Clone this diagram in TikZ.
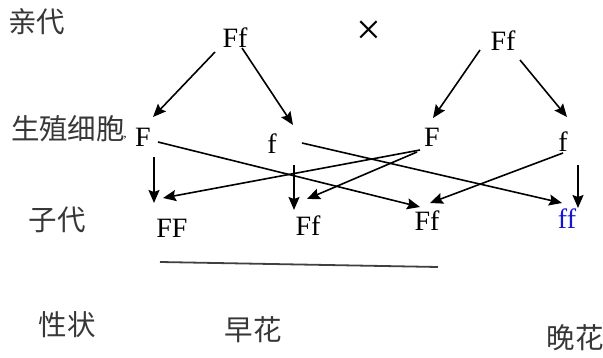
\documentclass[tikz,border=0pt]{standalone}
\usepackage{fontspec}
\setmainfont{Liberation Serif}
\newfontfamily\cjk{Noto Sans CJK SC}
\usetikzlibrary{arrows.meta}
\definecolor{labelgray}{RGB}{55,55,55}
\definecolor{recblue}{RGB}{20,20,210}

\begin{document}
\begin{tikzpicture}[
    x=1pt, y=-1pt,
    gene/.style={inner sep=0pt, font=\fontsize{28}{30}\selectfont},
    rowlabel/.style={inner sep=0pt, text=labelgray, font=\cjk\fontsize{28.5}{31}\selectfont},
    arrow/.style={-{Stealth[length=13pt,width=11pt,inset=2pt]}, line width=1.6pt},
    bar/.style={line width=1.8pt, black!75}
]
\useasboundingbox (0,0) rectangle (603,358);

% ===== ROW LABELS =====
\node[rowlabel] (lparent) at (37,22) {亲代};
\node[rowlabel] (lgamete) at (68,129) {生殖细胞};
\node[inner sep=0pt, font=\fontsize{12}{12}\selectfont] (comma) at (125,138) {,};
\node[rowlabel] (lchild) at (57,220) {子代};
\node[rowlabel] (ltrait) at (67,325) {性状};

% ===== PARENTS =====
\node[gene] (pA) at (235,38) {Ff};
\node[inner sep=0pt, font=\fontsize{44}{44}\selectfont] (cross) at (369,33) {×};
\node[gene] (pB) at (503,41) {Ff};

% ===== GAMETES =====
\node[gene] (gA) at (143,137) {F};
\node[gene] (ga) at (272,144) {f};
\node[gene] (gB) at (432,137) {F};
\node[gene] (gb) at (563,142) {f};

% ===== OFFSPRING =====
\node[gene] (oFF) at (172,228) {FF};
\node[gene] (oFf1) at (308,226) {Ff};
\node[gene] (oFf2) at (427,221) {Ff};
\node[gene, text=recblue] (off) at (567,219) {ff};

% ===== TRAITS =====
\node[rowlabel] (early) at (253,330) {早花};
\node[rowlabel] (late) at (575,338) {晚花};

% ===== ARROWS - MEIOSIS =====
\draw[arrow] ([shift={(-20,14)}]pA.center) -- ([shift={(10,-20)}]gA.center);
\draw[arrow] ([shift={(7,10)}]pA.center) -- ([shift={(21,-19)}]ga.center);
\draw[arrow] ([shift={(-23,9)}]pB.center) -- ([shift={(1,-19)}]gB.center);
\draw[arrow] ([shift={(17,19)}]pB.center) -- ([shift={(4,-25)}]gb.center);

% ===== ARROWS - FERTILIZATION =====
\draw[arrow] ([shift={(11,20)}]gA.center) -- ([shift={(-18,-25)}]oFF.center);
\draw[arrow] ([shift={(15,5)}]gA.center) -- ([shift={(-7,-14)}]oFf2.center);
\draw[arrow] ([shift={(22,21)}]ga.center) -- ([shift={(-14,-16)}]oFf1.center);
\draw[arrow] ([shift={(30,-1)}]ga.center) -- ([shift={(-5,-16)}]off.center);
\draw[arrow] ([shift={(-12,13)}]gB.center) -- ([shift={(-9,-30)}]oFF.center);
\draw[arrow] ([shift={(-15,15)}]gB.center) -- ([shift={(-1,-27)}]oFf1.center);
\draw[arrow] ([shift={(0,11)}]gb.center) -- ([shift={(3,-18)}]oFf2.center);
\draw[arrow] ([shift={(15,23)}]gb.center) -- ([shift={(11,-11)}]off.center);

% ===== GROUP LINE =====
\draw[bar] ([shift={(-12,34)}]oFF.center) -- ([shift={(11,46)}]oFf2.center);

\end{tikzpicture}
\end{document}
